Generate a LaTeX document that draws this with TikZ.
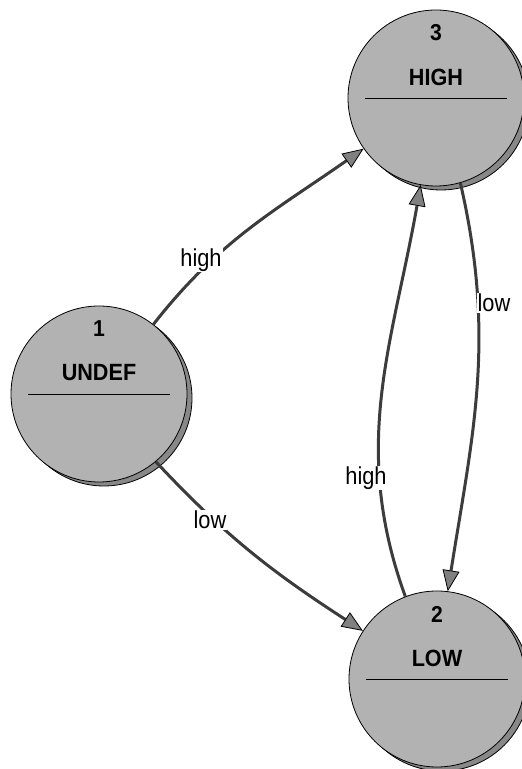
\documentclass[tikz,border=0pt]{standalone}
\usepackage{fontspec}
\setmainfont{Liberation Sans}
\newfontfamily\statefont{Liberation Sans}[FakeStretch=0.92]
\newfontfamily\labelfont{Liberation Sans}[FakeStretch=0.89]
\usetikzlibrary{arrows.meta,shadows}
\definecolor{statefill}{HTML}{B2B2B2}
\definecolor{shadowfill}{HTML}{888888}
\definecolor{edgecol}{HTML}{3C3C3C}
\definecolor{tipfill}{HTML}{808080}
\tikzset{
  state/.style={circle, draw=black, line width=0.8pt, fill=statefill,
    minimum size=176pt, inner sep=0pt,
    drop shadow={shadow xshift=5pt, shadow yshift=-4pt, fill=shadowfill,
      draw=black, opacity=1}},
  stnum/.style={font=\statefont\fontsize{23}{23}\selectfont\bfseries, inner sep=0pt},
  stname/.style={font=\statefont\fontsize{23.5}{23.5}\selectfont\bfseries, inner sep=0pt},
  divider/.style={draw=black, line width=0.9pt},
  trans/.style={draw=edgecol, line width=3pt,
    -{Triangle[length=21pt,width=17pt,line width=0.8pt,color=black,fill=tipfill]}},
  lbl/.style={font=\labelfont\fontsize{24.5}{24.5}\selectfont, fill=white, inner sep=1pt},
}
\begin{document}
\begin{tikzpicture}[x=1pt,y=1pt]
  \useasboundingbox (0,0) rectangle (522,769);
  % states
  \node[state] (n1) at (99,375) {};
  \node[state] (n3) at (436,671) {};
  \node[state] (n2) at (437,90) {};
  % texts and dividers
  \foreach \n/\num/\name in {n1/1/UNDEF, n2/2/LOW, n3/3/HIGH}{
    \node[stnum] (\n num) at ([yshift=65pt]\n.center) {\num};
    \node[stname] (\n name) at ([yshift=21pt]\n.center) {\name};
    \draw[divider] ([xshift=-71pt]\n.center) -- ([xshift=71pt]\n.center);
  }
  % transitions
  \draw[trans] (n1.52) to[out=52,in=215] (n3.215);
  \draw[trans] (n1.-50) to[out=-47,in=147] (n2.147);
  \draw[trans] (n2.111) to[out=110,in=260] (n3.260);
  \draw[trans] (n3.-74) to[out=-77,in=81] (n2.83);
  % labels
  \node[lbl] (l13) at (201,509) {high};
  \node[lbl] (l12) at (210,249) {low};
  \node[lbl] (l23) at (366,291) {high};
  \node[lbl] (l32) at (494,466) {low};
\end{tikzpicture}
\end{document}
